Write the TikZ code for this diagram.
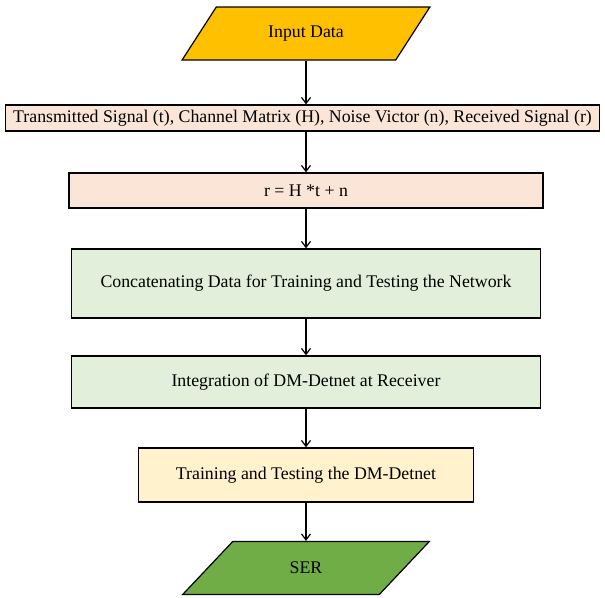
\documentclass[tikz,border=0pt]{standalone}
\usepackage{fontspec}
\setmainfont{Liberation Serif}
\usepackage{xcolor}
\usetikzlibrary{shapes.geometric,arrows.meta}
\definecolor{InGold}{RGB}{255,192,0}
\definecolor{OutGreen}{RGB}{112,173,71}
\definecolor{PeachFill}{RGB}{251,229,214}
\definecolor{MintFill}{RGB}{226,239,218}
\definecolor{CreamFill}{RGB}{255,242,204}
\tikzset{
    flowbox/.style={rectangle, draw=black, line width=1.2pt, text=black, font=\fontsize{17.8}{21}\selectfont, inner sep=2pt},
    iobox/.style={trapezium, trapezium left angle=47, trapezium right angle=133, trapezium stretches=true, draw=black, line width=1.2pt, text=black, font=\fontsize{17.8}{21}\selectfont, minimum width=248pt, minimum height=53pt, inner sep=0pt},
    flowarrow/.style={draw=black, line width=1.2pt, -{Straight Barb[length=6pt,width=9pt]}}
}
\begin{document}
\begin{tikzpicture}[x=1pt,y=-1pt]
    \useasboundingbox (0,0) rectangle (605,597);
    % input and data description
    \node[iobox, fill=InGold] (input) at (306,33.5) {Input Data};
    \node[flowbox, fill=PeachFill, minimum width=594pt, minimum height=26pt] (signals) at (302.5,118)
        {Transmitted Signal (t), Channel Matrix (H), Noise Victor (n), Received Signal (r)};
    \node[flowbox, fill=PeachFill, minimum width=474pt, minimum height=35pt] (model) at (306,190.5) {r = H *t + n};
    % network part
    \node[flowbox, fill=MintFill, minimum width=469pt, minimum height=69pt] (concat) at (306,283.5)
        {Concatenating Data for Training and Testing the Network};
    \node[flowbox, fill=MintFill, minimum width=469pt, minimum height=52pt] (integr) at (306,382)
        {Integration of DM-Detnet at Receiver};
    \node[flowbox, fill=CreamFill, minimum width=335pt, minimum height=54pt] (train) at (306,475)
        {Training and Testing the DM-Detnet};
    \node[iobox, fill=OutGreen] (ser) at (306,568) {SER};
    % arrows
    \draw[flowarrow] (input.south) -- (input.south |- signals.north);
    \draw[flowarrow] (model.north |- signals.south) -- (model.north);
    \draw[flowarrow] (model) -- (concat);
    \draw[flowarrow] (concat) -- (integr);
    \draw[flowarrow] (integr) -- (train);
    \draw[flowarrow] (train) -- (ser);
\end{tikzpicture}
\end{document}
